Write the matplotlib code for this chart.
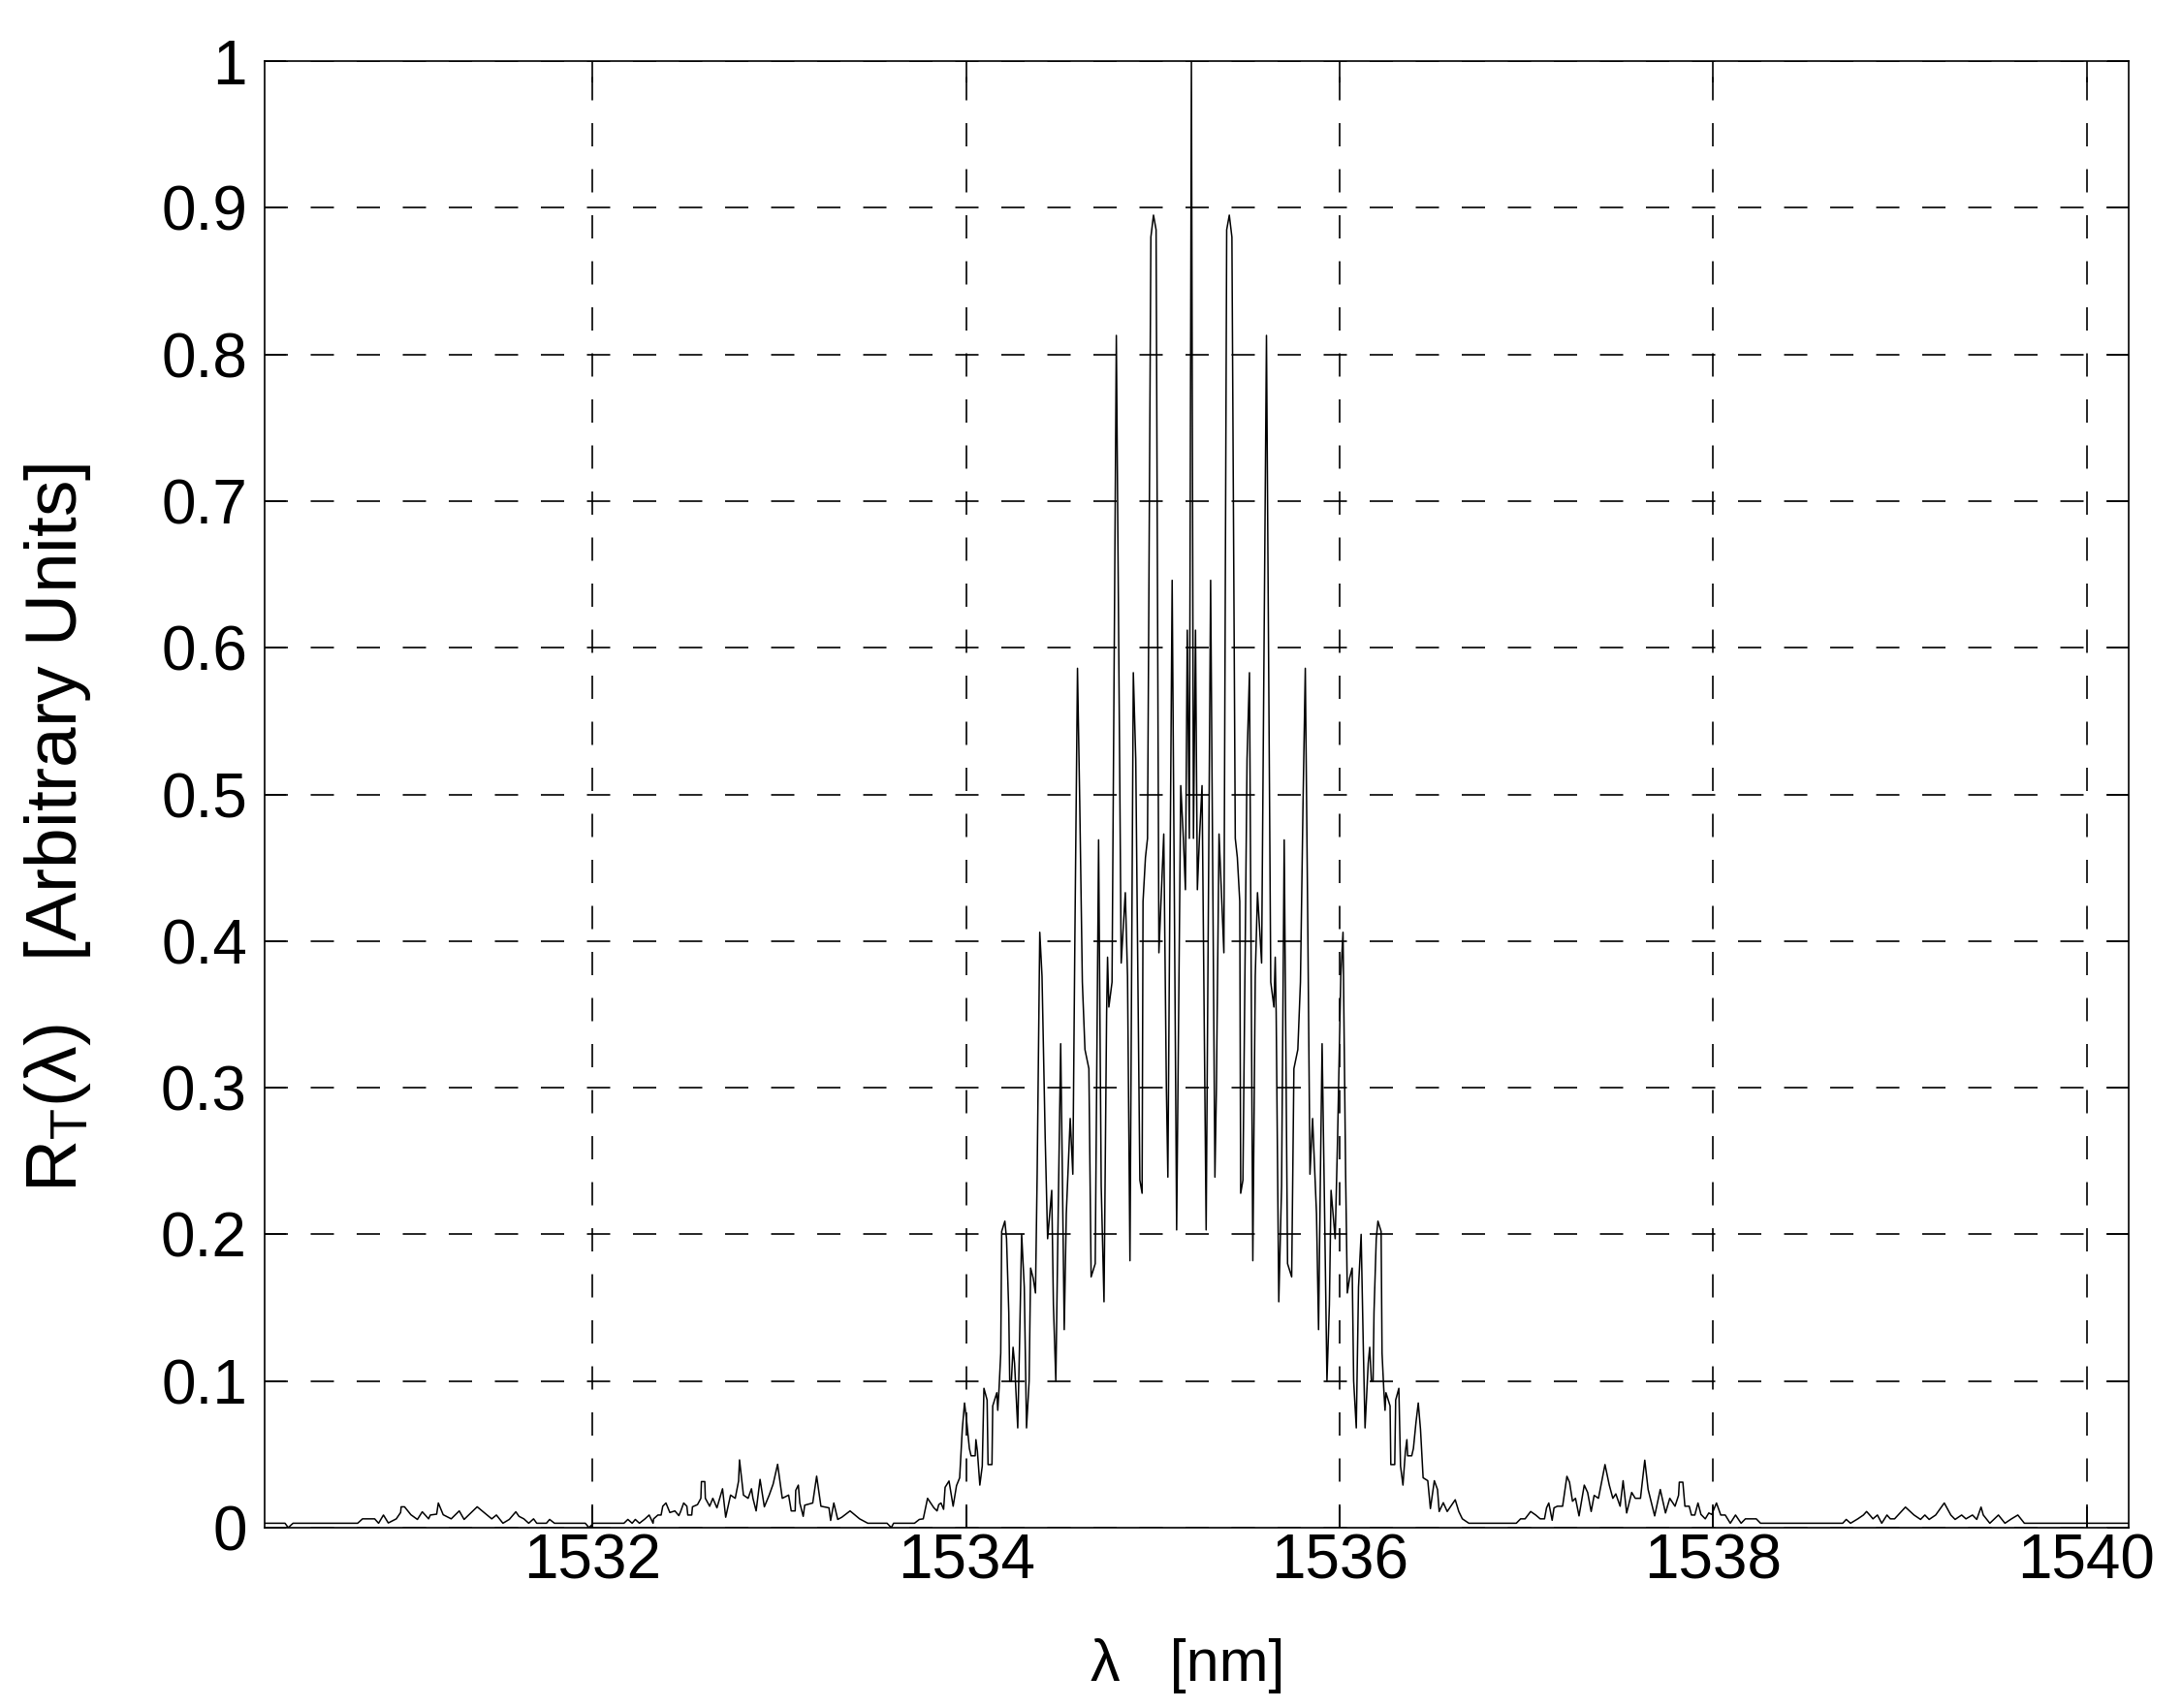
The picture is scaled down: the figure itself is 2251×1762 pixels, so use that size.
"""Reflection spectrum R_T(lambda) of a grating, redrawn from a MATLAB figure."""

import matplotlib
matplotlib.use("Agg")
import matplotlib.pyplot as plt
import numpy as np

# left side lobes (nm, arbitrary units)
wl_left = [
    1530.200, 1530.352, 1530.369, 1530.395, 1530.741, 1530.767, 1530.832,
    1530.853, 1530.879, 1530.905, 1530.948, 1530.971, 1530.974, 1530.992,
    1531.026, 1531.061, 1531.087, 1531.121, 1531.130, 1531.164, 1531.173,
    1531.199, 1531.242, 1531.285, 1531.311, 1531.381, 1531.459, 1531.484,
    1531.519, 1531.553, 1531.588, 1531.605, 1531.631, 1531.657, 1531.683,
    1531.700, 1531.752, 1531.769, 1531.795, 1531.960, 1531.980, 1532.003,
    1532.167, 1532.188, 1532.211, 1532.228, 1532.250, 1532.280, 1532.302,
    1532.323, 1532.326, 1532.349, 1532.366, 1532.375, 1532.392, 1532.413,
    1532.440, 1532.461, 1532.470, 1532.487, 1532.504, 1532.509, 1532.530,
    1532.534, 1532.561, 1532.579, 1532.582, 1532.600, 1532.603, 1532.626,
    1532.643, 1532.665, 1532.695, 1532.712, 1532.738, 1532.763, 1532.781,
    1532.786, 1532.807, 1532.832, 1532.850, 1532.858, 1532.875, 1532.896,
    1532.919, 1532.945, 1532.966, 1532.990, 1533.015, 1533.049, 1533.063,
    1533.084, 1533.087, 1533.101, 1533.109, 1533.127, 1533.135, 1533.178,
    1533.199, 1533.222, 1533.265, 1533.274, 1533.291, 1533.312, 1533.334,
    1533.378, 1533.429, 1533.473, 1533.576, 1533.599, 1533.611, 1533.723,
    1533.749, 1533.770, 1533.793, 1533.827, 1533.844, 1533.853, 1533.865,
    1533.879, 1533.887, 1533.908, 1533.930, 1533.948,
]
r_left = [
    0.003, 0.003, 0.000, 0.003, 0.003, 0.006, 0.006,
    0.003, 0.0086, 0.0032, 0.006, 0.0103, 0.0142, 0.0142,
    0.0088, 0.0056, 0.0108, 0.006, 0.0086, 0.0092, 0.0168,
    0.0088, 0.006, 0.0114, 0.0056, 0.0142, 0.006, 0.0086,
    0.003, 0.0056, 0.0108, 0.0077, 0.006, 0.003, 0.006,
    0.003, 0.003, 0.0056, 0.003, 0.003, 0.000, 0.003,
    0.003, 0.0056, 0.003, 0.0056, 0.003, 0.006, 0.0086,
    0.003, 0.006, 0.0086, 0.0086, 0.0146, 0.0168, 0.0103,
    0.0114, 0.0082, 0.0108, 0.0168, 0.0146, 0.0086, 0.0086,
    0.0142, 0.0157, 0.020, 0.0314, 0.0314, 0.020, 0.0146,
    0.020, 0.0135, 0.0265, 0.0071, 0.0222, 0.020, 0.0318,
    0.0462, 0.0222, 0.020, 0.0265, 0.020, 0.0114, 0.0329,
    0.0142, 0.0222, 0.0297, 0.0432, 0.020, 0.0222, 0.0114,
    0.0114, 0.0254, 0.029, 0.0168, 0.0077, 0.0153, 0.0168,
    0.0351, 0.0146, 0.0135, 0.0049, 0.0168, 0.0056, 0.0071,
    0.0114, 0.006, 0.003, 0.003, 0.000, 0.003, 0.003,
    0.0056, 0.006, 0.020, 0.0135, 0.0114, 0.0157, 0.0168,
    0.0125, 0.0275, 0.0318, 0.0146, 0.0286,
]

# main band, left half up to the central maximum
wl_core_l = [
    1533.965, 1533.979, 1533.991, 1534.003, 1534.017, 1534.026, 1534.048,
    1534.052, 1534.060, 1534.073, 1534.086, 1534.095, 1534.112, 1534.117,
    1534.138, 1534.142, 1534.164, 1534.169, 1534.176, 1534.185, 1534.190,
    1534.207, 1534.216, 1534.228, 1534.233, 1534.242, 1534.251, 1534.259,
    1534.276, 1534.285, 1534.297, 1534.311, 1534.323, 1534.337, 1534.345,
    1534.359, 1534.371, 1534.380, 1534.394, 1534.406, 1534.423, 1534.436,
    1534.458, 1534.467, 1534.480, 1534.493, 1534.506, 1534.515, 1534.525,
    1534.536, 1534.557, 1534.571, 1534.582, 1534.596, 1534.608, 1534.622,
    1534.636, 1534.657, 1534.669, 1534.691, 1534.709, 1534.723, 1534.738,
    1534.752, 1534.757, 1534.764, 1534.781, 1534.804, 1534.830, 1534.852,
    1534.864, 1534.877, 1534.895, 1534.908, 1534.916, 1534.930, 1534.942,
    1534.947, 1534.960, 1534.971, 1534.989, 1535.003, 1535.017, 1535.032,
    1535.058, 1535.072, 1535.080, 1535.103, 1535.127, 1535.149, 1535.163,
    1535.174, 1535.184, 1535.195, 1535.206,
]
r_core_l = [
    0.034, 0.067, 0.085, 0.072, 0.054, 0.049, 0.049,
    0.060, 0.052, 0.029, 0.042, 0.095, 0.087, 0.043,
    0.043, 0.083, 0.092, 0.080, 0.095, 0.119, 0.202,
    0.209, 0.197, 0.147, 0.100, 0.100, 0.123, 0.112,
    0.068, 0.121, 0.200, 0.164, 0.068, 0.100, 0.177,
    0.170, 0.160, 0.241, 0.406, 0.376, 0.266, 0.197,
    0.230, 0.152, 0.100, 0.218, 0.330, 0.241, 0.135,
    0.214, 0.279, 0.241, 0.402, 0.586, 0.495, 0.372,
    0.326, 0.313, 0.171, 0.180, 0.469, 0.233, 0.154,
    0.351, 0.389, 0.355, 0.372, 0.813, 0.385, 0.433,
    0.376, 0.182, 0.583, 0.524, 0.419, 0.237, 0.228,
    0.427, 0.457, 0.470, 0.880, 0.895, 0.885, 0.392,
    0.473, 0.300, 0.239, 0.646, 0.203, 0.506, 0.470,
    0.435, 0.612, 0.470, 1.000,
]

# main band, right half
wl_core_r = [
    1535.217, 1535.228, 1535.238, 1535.249, 1535.263, 1535.285, 1535.309,
    1535.332, 1535.340, 1535.354, 1535.380, 1535.395, 1535.409, 1535.423,
    1535.441, 1535.452, 1535.465, 1535.470, 1535.482, 1535.496, 1535.504,
    1535.517, 1535.535, 1535.548, 1535.560, 1535.582, 1535.608, 1535.631,
    1535.648, 1535.655, 1535.660, 1535.674, 1535.689, 1535.703, 1535.721,
    1535.743, 1535.755, 1535.776, 1535.790, 1535.804, 1535.816, 1535.830,
    1535.841, 1535.855, 1535.876, 1535.887, 1535.897, 1535.906, 1535.919,
    1535.932, 1535.945, 1535.954, 1535.976, 1535.989, 1536.006, 1536.018,
    1536.032, 1536.041, 1536.053, 1536.067, 1536.075, 1536.089, 1536.101,
    1536.115, 1536.127, 1536.136, 1536.153, 1536.161, 1536.170, 1536.179,
    1536.184, 1536.196, 1536.205, 1536.222, 1536.227, 1536.236, 1536.243,
    1536.248, 1536.270, 1536.274, 1536.295, 1536.300, 1536.317, 1536.326,
    1536.339, 1536.352, 1536.360, 1536.364, 1536.386, 1536.395, 1536.409,
    1536.421, 1536.433, 1536.447,
]
r_core_r = [
    0.470, 0.612, 0.435, 0.470, 0.506, 0.203, 0.646,
    0.239, 0.300, 0.473, 0.392, 0.885, 0.895, 0.880,
    0.470, 0.457, 0.427, 0.228, 0.237, 0.419, 0.524,
    0.583, 0.182, 0.376, 0.433, 0.385, 0.813, 0.372,
    0.355, 0.389, 0.351, 0.154, 0.233, 0.469, 0.180,
    0.171, 0.313, 0.326, 0.372, 0.495, 0.586, 0.402,
    0.241, 0.279, 0.214, 0.135, 0.241, 0.330, 0.218,
    0.100, 0.152, 0.230, 0.197, 0.266, 0.376, 0.406,
    0.241, 0.160, 0.170, 0.177, 0.100, 0.068, 0.164,
    0.200, 0.121, 0.068, 0.112, 0.123, 0.100, 0.100,
    0.147, 0.197, 0.209, 0.202, 0.119, 0.095, 0.080,
    0.092, 0.083, 0.043, 0.043, 0.087, 0.095, 0.042,
    0.029, 0.052, 0.060, 0.049, 0.049, 0.054, 0.072,
    0.085, 0.067, 0.034,
]

# right side lobes
wl_right = [
    1536.472, 1536.486, 1536.507, 1536.524, 1536.533, 1536.555, 1536.576,
    1536.619, 1536.638, 1536.657, 1536.692, 1536.946, 1536.969, 1536.993,
    1537.023, 1537.050, 1537.074, 1537.097, 1537.108, 1537.120, 1537.138,
    1537.148, 1537.166, 1537.194, 1537.217, 1537.231, 1537.247, 1537.263,
    1537.282, 1537.310, 1537.328, 1537.347, 1537.363, 1537.386, 1537.421,
    1537.444, 1537.463, 1537.479, 1537.502, 1537.518, 1537.537, 1537.564,
    1537.583, 1537.611, 1537.634, 1537.652, 1537.687, 1537.717, 1537.745,
    1537.768, 1537.796, 1537.815, 1537.819, 1537.838, 1537.849, 1537.872,
    1537.884, 1537.902, 1537.919, 1537.935, 1537.958, 1537.977, 1537.993,
    1538.018, 1538.041, 1538.065, 1538.092, 1538.120, 1538.150, 1538.173,
    1538.231, 1538.254, 1538.694, 1538.713, 1538.736, 1538.775, 1538.805,
    1538.822, 1538.845, 1538.856, 1538.880, 1538.903, 1538.931, 1538.949,
    1538.972, 1539.030, 1539.076, 1539.111, 1539.134, 1539.157, 1539.192,
    1539.222, 1539.238, 1539.273, 1539.296, 1539.331, 1539.354, 1539.389,
    1539.412, 1539.435, 1539.447, 1539.482, 1539.528, 1539.563, 1539.598,
    1539.632, 1539.667, 1540.230,
]
r_right = [
    0.032, 0.013, 0.032, 0.026, 0.011, 0.017, 0.011,
    0.019, 0.011, 0.006, 0.003, 0.003, 0.006, 0.006,
    0.011, 0.0086, 0.006, 0.006, 0.0135, 0.0168, 0.005,
    0.0135, 0.0146, 0.0146, 0.035, 0.031, 0.018, 0.020,
    0.008, 0.029, 0.024, 0.011, 0.022, 0.020, 0.043,
    0.029, 0.020, 0.023, 0.0146, 0.032, 0.010, 0.024,
    0.020, 0.020, 0.046, 0.026, 0.008, 0.026, 0.010,
    0.020, 0.0146, 0.022, 0.031, 0.031, 0.0146, 0.0146,
    0.0086, 0.0086, 0.0168, 0.009, 0.006, 0.010, 0.009,
    0.0168, 0.0086, 0.0086, 0.003, 0.0086, 0.003, 0.006,
    0.006, 0.003, 0.003, 0.0056, 0.003, 0.006, 0.0086,
    0.011, 0.0077, 0.006, 0.0086, 0.003, 0.0086, 0.006,
    0.006, 0.014, 0.0086, 0.0056, 0.0086, 0.0056, 0.0086,
    0.014, 0.0168, 0.0086, 0.0056, 0.0086, 0.006, 0.0086,
    0.0056, 0.014, 0.0086, 0.003, 0.0086, 0.003, 0.006,
    0.0086, 0.003, 0.003,
]

x_ticks = [1532, 1534, 1536, 1538, 1540]
y_ticks = [0, 0.1, 0.2, 0.3, 0.4, 0.5, 0.6, 0.7, 0.8, 0.9, 1]
y_tick_labels = ["0", "0.1", "0.2", "0.3", "0.4", "0.5", "0.6", "0.7", "0.8",
                 "0.9", "1"]

plt.rcParams["font.family"] = ["Liberation Sans", "DejaVu Sans"]
plt.rcParams["mathtext.fontset"] = "custom"
plt.rcParams["mathtext.rm"] = "Liberation Sans"
plt.rcParams["mathtext.default"] = "regular"

wl = np.concatenate([wl_left, wl_core_l, wl_core_r, wl_right])
r = np.concatenate([r_left, r_core_l, r_core_r, r_right])

fig = plt.figure(figsize=(22.51, 17.62), dpi=100)
ax = fig.add_axes([0.1213, 0.1056, 0.8543, 0.8586])
ax.plot(wl, r, color="black", lw=1.1, zorder=3)

ax.set_xlim(1530.243, 1540.226)
ax.set_ylim(0, 1)
ax.set_xticks(x_ticks)
ax.set_yticks(y_ticks)
ax.set_yticklabels(y_tick_labels)
ax.grid(True, color="black", lw=1.2, linestyle=(0, (14.4, 14.1)))
ax.tick_params(axis="both", direction="in", length=16, width=1.2,
               top=True, right=True, labelsize=46)
ax.tick_params(axis="x", pad=4)
ax.tick_params(axis="y", pad=13)
for spine in ax.spines.values():
    spine.set_linewidth(1.2)

ax.set_xlabel("λ   [nm]", fontsize=44)
ax.xaxis.set_label_coords(0.495, -0.0753)
ax.set_ylabel("R$_\\mathregular{T}$(λ)   [Arbitrary Units]", fontsize=54)
ax.yaxis.set_label_coords(-0.092, 0.477)

fig.savefig("out.png", dpi=100)
